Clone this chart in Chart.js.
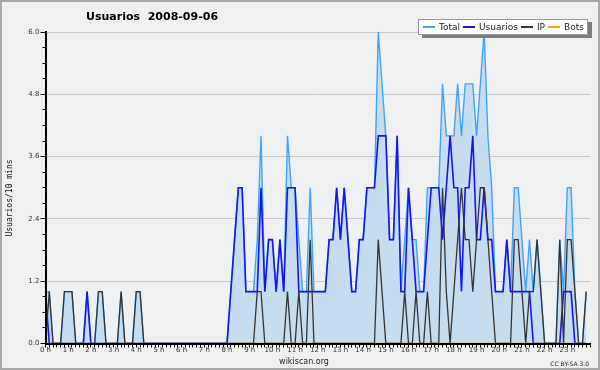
<!DOCTYPE html>
<html>
<head>
<meta charset="utf-8">
<script src="https://cdn.jsdelivr.net/npm/chart.js@4.4.1/dist/chart.umd.min.js"></script>
<style>
  html, body { margin: 0; padding: 0; background: #f0f0f0; }
  #wrap { position: relative; width: 600px; height: 370px; background: #f0f0f0; overflow: hidden; }
  #c { position: absolute; left: 0; top: 0; }
  #frame { position: absolute; left: 0; top: 0; width: 600px; height: 370px; box-sizing: border-box; border: 2px solid #a9a9a9; pointer-events: none; }
  .txt { position: absolute; white-space: pre; font-family: "DejaVu Sans", sans-serif; color: #222; }
  #titulo { left: 86px; top: 10px; font-size: 11px; font-weight: bold; line-height: 14px; color: #000; }
  #ytit { left: -29px; top: 193px; width: 78px; height: 10px; line-height: 10px; text-align: center; font-family: "DejaVu Sans Mono", monospace; font-size: 8px; color: #111; transform: rotate(-90deg); }
  #fuente { left: 304px; top: 361px; font-size: 8px; transform: translate(-50%, -50%); }
  #cc { right: 11px; top: 363px; font-size: 6px; transform: translateY(-50%); }
  #leyenda { position: absolute; left: 418px; top: 19px; height: 14px; display: flex; align-items: center; padding: 0 0 0 4px; background: #fff; border: 1px solid #9a9a9a; box-shadow: 4px 3px 0 #7d7d7d; font: 9px "DejaVu Sans", sans-serif; color: #222; white-space: nowrap; }
  #leyenda i { display: inline-block; width: 12px; height: 1.5px; margin-right: 4px; }
  #leyenda span { margin-right: 3px; }
</style>
</head>
<body>
<div id="wrap">
  <canvas id="c" width="600" height="370"></canvas>
  <div id="titulo" class="txt">Usuarios  2008-09-06</div>
  <div id="ytit" class="txt">Usuarios/10 mins</div>
  <div id="fuente" class="txt">wikiscan.org</div>
  <div id="cc" class="txt">CC BY-SA 3.0</div>
  <div id="leyenda"></div>
  <div id="frame"></div>
</div>
<script>
// etiquetas de horas (un tick cada 10 min, etiqueta cada hora)
const horas = ['0 h', '1 h', '2 h', '3 h', '4 h', '5 h', '6 h', '7 h', '8 h', '9 h', '10 h', '11 h',
  '12 h', '13 h', '14 h', '15 h', '16 h', '17 h', '18 h', '19 h', '20 h', '21 h', '22 h', '23 h'];

// valores cada 10 minutos, una fila por hora
const total = [
  1, 1, 0, 0, 0, 1,
  1, 1, 0, 0, 0, 1,
  0, 0, 1, 1, 0, 0,
  0, 0, 1, 0, 0, 0,
  1, 1, 0, 0, 0, 0,
  0, 0, 0, 0, 0, 0,
  0, 0, 0, 0, 0, 0,
  0, 0, 0, 0, 0, 0,
  0, 1, 2, 3, 3, 1,
  1, 1, 2, 4, 1, 2,
  2, 1, 2, 1, 4, 3,
  3, 2, 1, 1, 3, 1,
  1, 1, 1, 2, 2, 3,
  2, 3, 2, 1, 1, 2,
  2, 3, 3, 3, 6, 5,
  4, 2, 2, 4, 1, 2,
  3, 2, 2, 1, 1, 3,
  3, 3, 3, 5, 4, 4,
  4, 5, 4, 5, 5, 5,
  4, 5, 6, 4, 3, 1,
  1, 1, 2, 1, 3, 3,
  2, 1, 2, 1, 2, 1,
  0, 0, 0, 0, 2, 1,
  3, 3, 1, 0, 0, 1,
];
const usuarios = [
  1, 0, 0, 0, 0, 0,
  0, 0, 0, 0, 0, 1,
  0, 0, 0, 0, 0, 0,
  0, 0, 0, 0, 0, 0,
  0, 0, 0, 0, 0, 0,
  0, 0, 0, 0, 0, 0,
  0, 0, 0, 0, 0, 0,
  0, 0, 0, 0, 0, 0,
  0, 1, 2, 3, 3, 1,
  1, 1, 1, 3, 1, 2,
  2, 1, 2, 1, 3, 3,
  3, 1, 1, 1, 1, 1,
  1, 1, 1, 2, 2, 3,
  2, 3, 2, 1, 1, 2,
  2, 3, 3, 3, 4, 4,
  4, 2, 2, 4, 1, 1,
  3, 2, 1, 1, 1, 2,
  3, 3, 3, 2, 3, 4,
  3, 3, 1, 3, 3, 4,
  2, 2, 3, 2, 2, 1,
  1, 1, 2, 1, 1, 1,
  1, 1, 1, 0, 0, 0,
  0, 0, 0, 0, 0, 1,
  1, 1, 0, 0, 0, 0,
];
const ip = [
  0, 1, 0, 0, 0, 1,
  1, 1, 0, 0, 0, 0,
  0, 0, 1, 1, 0, 0,
  0, 0, 1, 0, 0, 0,
  1, 1, 0, 0, 0, 0,
  0, 0, 0, 0, 0, 0,
  0, 0, 0, 0, 0, 0,
  0, 0, 0, 0, 0, 0,
  0, 0, 0, 0, 0, 0,
  0, 0, 1, 1, 0, 0,
  0, 0, 0, 0, 1, 0,
  0, 1, 0, 0, 2, 0,
  0, 0, 0, 0, 0, 0,
  0, 0, 0, 0, 0, 0,
  0, 0, 0, 0, 2, 1,
  0, 0, 0, 0, 0, 1,
  0, 0, 1, 0, 0, 1,
  0, 0, 0, 3, 1, 0,
  1, 2, 3, 2, 2, 1,
  2, 3, 3, 2, 1, 0,
  0, 0, 0, 0, 2, 2,
  1, 0, 1, 1, 2, 1,
  0, 0, 0, 0, 2, 0,
  2, 2, 1, 0, 0, 1,
];
const bots = [
  0, 0, 0, 0, 0, 0,  0, 0, 0, 0, 0, 0,  0, 0, 0, 0, 0, 0,  0, 0, 0, 0, 0, 0,
  0, 0, 0, 0, 0, 0,  0, 0, 0, 0, 0, 0,  0, 0, 0, 0, 0, 0,  0, 0, 0, 0, 0, 0,
  0, 0, 0, 0, 0, 0,  0, 0, 0, 0, 0, 0,  0, 0, 0, 0, 0, 0,  0, 0, 0, 0, 0, 0,
  0, 0, 0, 0, 0, 0,  0, 0, 0, 0, 0, 0,  0, 0, 0, 0, 0, 0,  0, 0, 0, 0, 0, 0,
  0, 0, 0, 0, 0, 0,  0, 0, 0, 0, 0, 0,  0, 0, 0, 0, 0, 0,  0, 0, 0, 0, 0, 0,
  0, 0, 0, 0, 0, 0,  0, 0, 0, 0, 0, 0,  0, 0, 0, 0, 0, 0,  0, 0, 0, 0, 0, 0,
];
// ticks del eje Y con etiqueta
const marcasY = [0, 1.2, 2.4, 3.6, 4.8, 6.0];

const COL_TOTAL = '#45a3f7';
const COL_RELLENO = '#c6ddf0';
const COL_USUARIOS = '#1414f5';
const COL_IP = '#333333';
const COL_BOTS = '#ffa500';

// una categoría por tramo de 10 min, más el borde final de 24 h
const etiquetas = [];
for (let i = 0; i <= 144; i++) etiquetas.push(i % 6 === 0 && i < 144 ? horas[i / 6] : '');

const esMarca = (v) => marcasY.some((m) => Math.abs(m - v) < 1e-6);

// leyenda en html (caja blanca con sombra)
const series = [
  ['Total', COL_TOTAL], ['Usuarios', COL_USUARIOS], ['IP', COL_IP], ['Bots', COL_BOTS],
];
document.getElementById('leyenda').innerHTML = series
  .map(([n, c]) => `<i style="background:${c}"></i><span>${n}</span>`).join('');

const fondo = {
  id: 'fondo',
  beforeDraw(chart) {
    const { ctx, chartArea: a } = chart;
    ctx.save();
    ctx.fillStyle = '#eef0f2';
    ctx.fillRect(a.left, a.top, a.right - a.left, a.bottom - a.top);
    ctx.restore();
  },
};

Chart.defaults.font.family = '"DejaVu Sans", sans-serif';

new Chart(document.getElementById('c').getContext('2d'), {
  type: 'line',
  data: {
    labels: etiquetas,
    datasets: [
      { label: 'IP', data: ip, borderColor: COL_IP, borderWidth: 1.3 },
      { label: 'Usuarios', data: usuarios, borderColor: COL_USUARIOS, borderWidth: 1.6 },
      { label: 'Bots', data: bots, borderColor: COL_BOTS, borderWidth: 1.3 },
      {
        label: 'Total', data: total, borderColor: COL_TOTAL, borderWidth: 1.4,
        backgroundColor: COL_RELLENO, fill: 'origin',
      },
    ],
  },
  options: {
    responsive: false,
    animation: false,
    events: [],
    elements: { point: { radius: 0 }, line: { tension: 0 } },
    layout: { padding: { top: 32, right: 10, left: 0, bottom: 0 } },
    plugins: { legend: { display: false }, tooltip: { enabled: false } },
    scales: {
      x: {
        afterFit: (s) => { s.height = 26.5; },
        grid: { drawOnChartArea: false, drawTicks: true, tickLength: 4, tickColor: '#000', tickWidth: 1 },
        border: { display: true, color: '#000', width: 2, z: 1 },
        ticks: {
          autoSkip: false, maxRotation: 0, minRotation: 0, padding: -1,
          color: '#333', font: { size: 7, lineHeight: 1 },
        },
      },
      y: {
        min: 0,
        max: 6,
        afterFit: (s) => { s.width = 45.5; },
        grid: {
          color: (c) => (esMarca(c.tick.value) ? '#c9c9c9' : 'rgba(0,0,0,0)'),
          tickColor: '#000',
          tickWidth: 1,
          tickLength: 5,
          tickBorderDash: (c) => (esMarca(c.tick.value) ? [] : [0, 2, 3]),
        },
        border: { display: true, color: '#000', width: 2, z: 1 },
        ticks: {
          stepSize: 0.3, autoSkip: false, padding: 1,
          color: '#333', font: { size: 7 },
          callback: (v) => (esMarca(v) ? v.toFixed(1) : ''),
        },
      },
    },
  },
  plugins: [fondo],
});
</script>
</body>
</html>
